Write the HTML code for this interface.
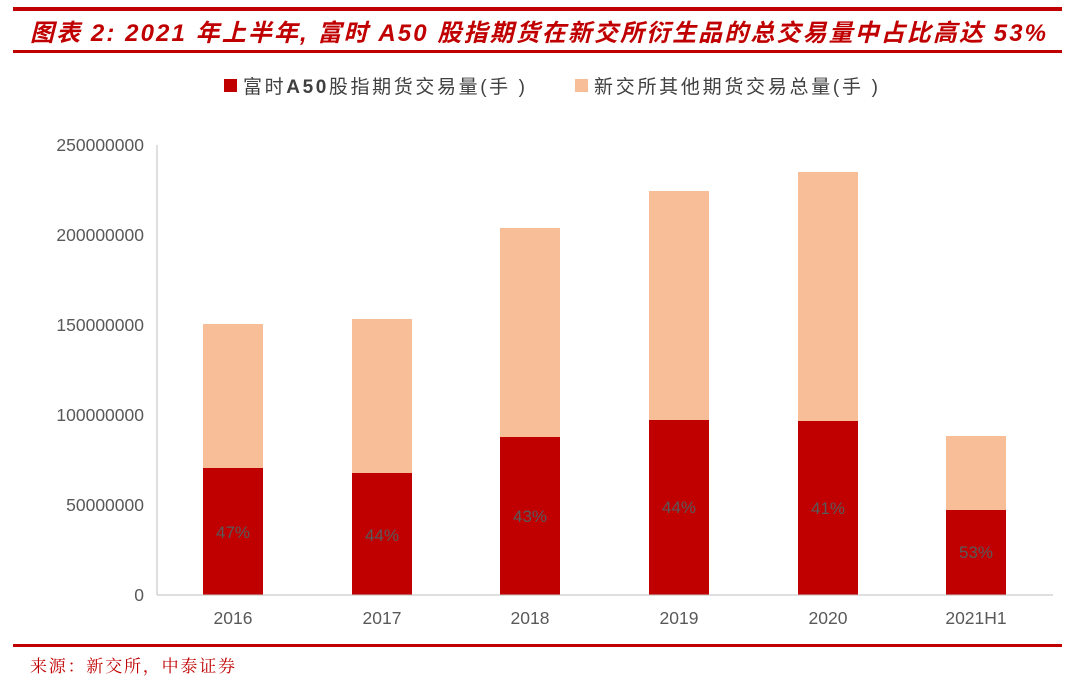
<!DOCTYPE html><html><head><meta charset="utf-8"><style>body{margin:0;background:#fff}svg{display:block}</style></head><body>
<svg width="1080" height="687" xmlns="http://www.w3.org/2000/svg" font-family="'Liberation Sans','Noto Sans CJK SC',sans-serif">
<rect x="13" y="7" width="1049" height="4" fill="#c00000"/>
<text x="30" y="41" font-size="24" font-weight="bold" font-style="italic" fill="#c00000" textLength="1016" lengthAdjust="spacing">图表 2: 2021 年上半年, 富时 A50 股指期货在新交所衍生品的总交易量中占比高达 53%</text>
<rect x="13" y="50" width="1049" height="3" fill="#c00000"/>
<rect x="224" y="79" width="13" height="13" fill="#c00000"/>
<text x="243" y="93" font-size="19" fill="#404040" textLength="282" lengthAdjust="spacing">富时<tspan font-weight="bold">A50</tspan>股指期货交易量(手 )</text>
<rect x="575" y="79" width="13" height="13" fill="#f8be98"/>
<text x="594" y="93" font-size="19" fill="#404040" textLength="284" lengthAdjust="spacing">新交所其他期货交易总量(手 )</text>
<g font-size="17.5" fill="#595959" text-anchor="end">
<text x="144" y="601">0</text><text x="144" y="511">50000000</text><text x="144" y="421">100000000</text><text x="144" y="331">150000000</text><text x="144" y="241">200000000</text><text x="144" y="151">250000000</text>
</g>
<line x1="157" y1="145" x2="157" y2="595" stroke="#bfbfbf"/>
<g fill="#f8be98">
<rect x="203" y="324" width="60" height="271"/><rect x="352" y="319" width="60" height="276"/><rect x="500" y="228" width="60" height="367"/><rect x="649" y="191" width="60" height="404"/><rect x="798" y="172" width="60" height="423"/><rect x="946" y="436" width="60" height="159"/>
</g>
<g fill="#c00000">
<rect x="203" y="468" width="60" height="127"/><rect x="352" y="473" width="60" height="122"/><rect x="500" y="437" width="60" height="158"/><rect x="649" y="420" width="60" height="175"/><rect x="798" y="421" width="60" height="174"/><rect x="946" y="510" width="60" height="85"/>
</g>
<line x1="157" y1="595" x2="1053" y2="595" stroke="#bfbfbf"/>
<g font-size="17" fill="#595959" text-anchor="middle">
<text x="233" y="538">47%</text><text x="382" y="541">44%</text><text x="530" y="522">43%</text><text x="679" y="513">44%</text><text x="828" y="514">41%</text><text x="976" y="558">53%</text>
</g>
<g font-size="17.5" fill="#595959" text-anchor="middle">
<text x="233" y="624">2016</text><text x="382" y="624">2017</text><text x="530" y="624">2018</text><text x="679" y="624">2019</text><text x="828" y="624">2020</text><text x="976" y="624">2021H1</text>
</g>
<rect x="13" y="644" width="1049" height="3" fill="#c00000"/>
<text x="30" y="672" font-size="17" fill="#c00000" font-family="'Noto Serif CJK SC',serif" textLength="205" lengthAdjust="spacing">来源：新交所，中泰证券</text>
</svg>
</body></html>
